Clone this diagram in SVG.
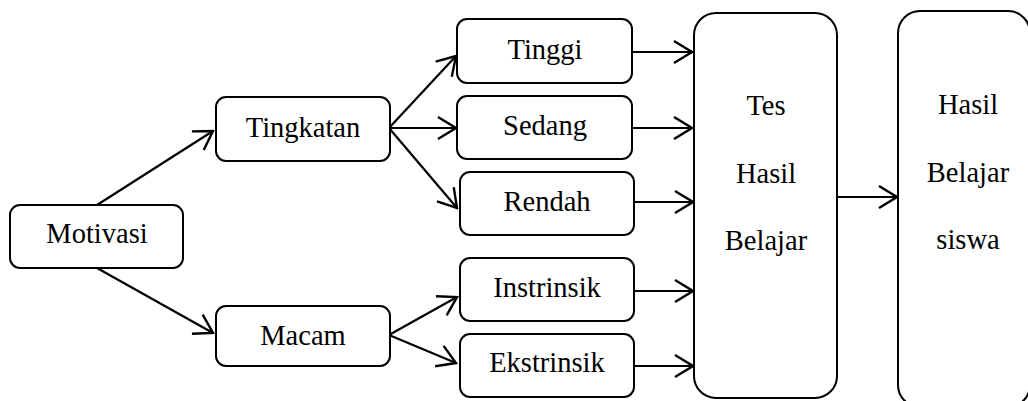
<svg xmlns="http://www.w3.org/2000/svg" width="1028" height="401" viewBox="0 0 1028 401">
  <style>
    .box { fill: #ffffff; stroke: #000000; stroke-width: 2; }
    .lbl { font-family: "Liberation Serif", "Times New Roman", serif; font-size: 28.5px; fill: #000000; text-anchor: middle; }
    .link { fill: none; stroke: #000000; stroke-width: 2.2; marker-end: url(#head); }
  </style>
  <defs>
    <marker id="head" markerUnits="userSpaceOnUse" markerWidth="22" markerHeight="26" viewBox="-2 -2 22 26" refX="18" refY="11" orient="auto">
      <path d="M0,0 L18,11 L0,22" fill="none" stroke="#000000" stroke-width="2.4"/>
    </marker>
  </defs>
  <rect width="1028" height="401" fill="#ffffff"/>

  <g id="connectors">
    <line class="link" x1="97" y1="205" x2="213" y2="131"/>
    <line class="link" x1="97" y1="268" x2="213" y2="333"/>
    <line class="link" x1="389" y1="128" x2="456" y2="56"/>
    <line class="link" x1="389" y1="128" x2="456" y2="128"/>
    <line class="link" x1="389" y1="128" x2="457" y2="208"/>
    <line class="link" x1="389" y1="335" x2="457" y2="297"/>
    <line class="link" x1="389" y1="335" x2="456" y2="363"/>
    <line class="link" x1="632" y1="52" x2="692" y2="52"/>
    <line class="link" x1="632" y1="128" x2="692" y2="128"/>
    <line class="link" x1="634" y1="202" x2="693" y2="202"/>
    <line class="link" x1="634" y1="291" x2="693" y2="291"/>
    <line class="link" x1="634" y1="366" x2="693" y2="366"/>
    <line class="link" x1="837" y1="197" x2="897" y2="197"/>
  </g>

  <g id="motivasi">
    <rect class="box" x="10" y="205" width="173" height="63" rx="10"/>
    <text class="lbl" x="97" y="243">Motivasi</text>
  </g>
  <g id="tingkatan">
    <rect class="box" x="216" y="97" width="174" height="64" rx="10"/>
    <text class="lbl" x="303" y="137">Tingkatan</text>
  </g>
  <g id="macam">
    <rect class="box" x="216" y="306" width="174" height="60" rx="10"/>
    <text class="lbl" x="303" y="345">Macam</text>
  </g>
  <g id="tinggi">
    <rect class="box" x="457" y="19" width="175" height="64" rx="10"/>
    <text class="lbl" x="545" y="59">Tinggi</text>
  </g>
  <g id="sedang">
    <rect class="box" x="457" y="96" width="175" height="63" rx="10"/>
    <text class="lbl" x="545" y="135">Sedang</text>
  </g>
  <g id="rendah">
    <rect class="box" x="460" y="172" width="174" height="63" rx="10"/>
    <text class="lbl" x="547" y="211">Rendah</text>
  </g>
  <g id="instrinsik">
    <rect class="box" x="460" y="258" width="174" height="63" rx="10"/>
    <text class="lbl" x="547" y="297">Instrinsik</text>
  </g>
  <g id="ekstrinsik">
    <rect class="box" x="460" y="334" width="174" height="63" rx="10"/>
    <text class="lbl" x="547" y="372">Ekstrinsik</text>
  </g>
  <g id="tes-hasil-belajar">
    <rect class="box" x="694" y="13" width="143" height="385" rx="22"/>
    <text class="lbl" x="766" y="115">Tes</text>
    <text class="lbl" x="766" y="183">Hasil</text>
    <text class="lbl" x="766" y="250">Belajar</text>
  </g>
  <g id="hasil-belajar-siswa">
    <rect class="box" x="898" y="11" width="132" height="396" rx="22"/>
    <text class="lbl" x="968" y="114">Hasil</text>
    <text class="lbl" x="968" y="182">Belajar</text>
    <text class="lbl" x="968" y="249">siswa</text>
  </g>
</svg>
